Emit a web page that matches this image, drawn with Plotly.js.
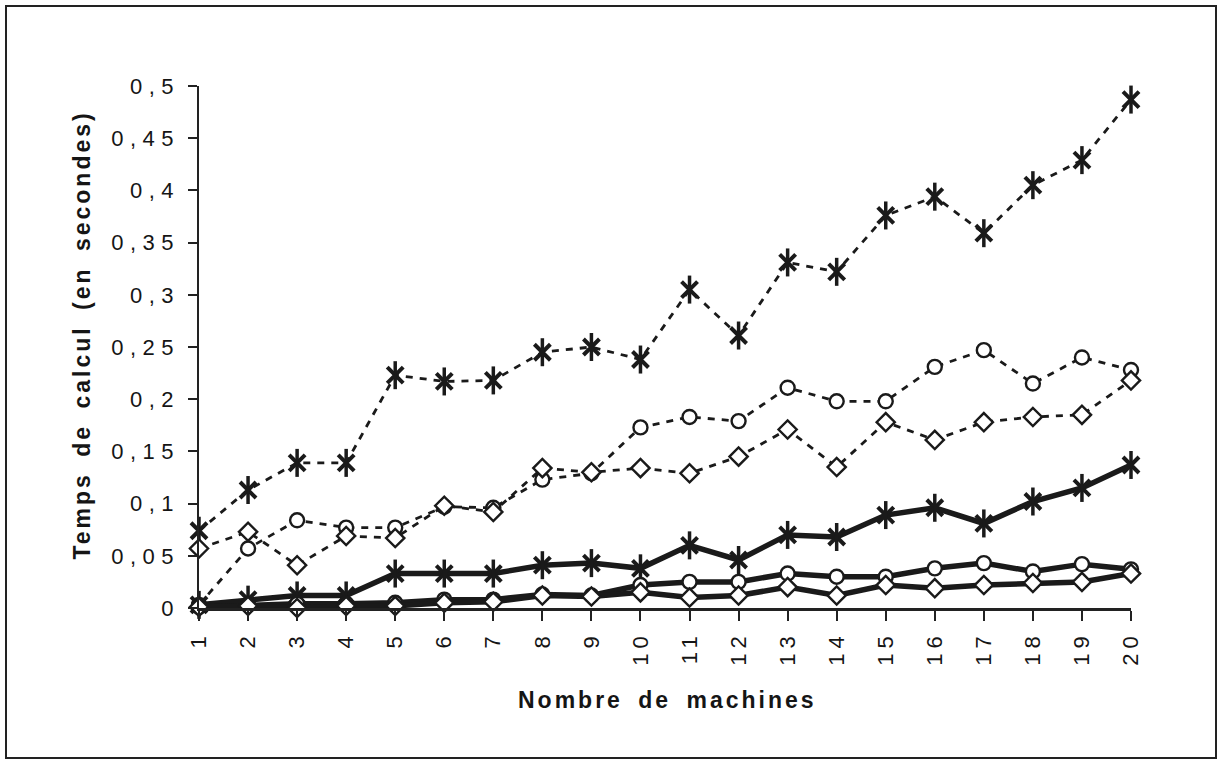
<!DOCTYPE html>
<html>
<head>
<meta charset="utf-8">
<script src="https://cdn.plot.ly/plotly-3.0.1.min.js"></script>
<style>
html,body{margin:0;padding:0;background:#fff;}
#wrap{position:relative;width:1221px;height:763px;}
#chart{width:1221px;height:763px;}
#frame{position:absolute;left:5px;top:5px;width:1208px;height:750px;border:2px solid #222;pointer-events:none;}
#chart .ytick text{letter-spacing:6.5px;}
#chart .xtick text{letter-spacing:5px;}
#chart .annotation-text{letter-spacing:3px;word-spacing:6px;}
</style>
</head>
<body>
<div id="wrap"><div id="chart"></div><div id="frame"></div></div>
<script>
const machines = [1,2,3,4,5,6,7,8,9,10,11,12,13,14,15,16,17,18,19,20];
const xTickLabels = machines.map(String);
const yTickValues = [0,0.05,0.1,0.15,0.2,0.25,0.3,0.35,0.4,0.45,0.5];
const xTitle = 'Nombre de machines';
const yTitle = 'Temps de calcul (en secondes)';

const dashedAsterisk = [0.074,0.113,0.139,0.139,0.223,0.217,0.218,0.245,0.250,0.238,0.305,0.261,0.331,0.322,0.376,0.394,0.359,0.405,0.429,0.487];
const dashedCircle   = [0.003,0.057,0.084,0.077,0.077,0.097,0.096,0.123,0.129,0.173,0.183,0.179,0.211,0.198,0.198,0.231,0.247,0.215,0.240,0.228];
const dashedDiamond  = [0.057,0.073,0.041,0.069,0.067,0.098,0.092,0.134,0.130,0.134,0.129,0.145,0.171,0.135,0.178,0.161,0.178,0.183,0.185,0.218];
const solidAsterisk  = [0.003,0.008,0.012,0.012,0.033,0.033,0.033,0.041,0.043,0.038,0.060,0.046,0.070,0.068,0.089,0.096,0.081,0.102,0.115,0.137];
const solidCircle    = [0.001,0.003,0.004,0.004,0.005,0.008,0.008,0.013,0.012,0.022,0.025,0.025,0.033,0.030,0.030,0.038,0.043,0.035,0.042,0.037];
const solidDiamond   = [0.001,0.002,0.000,0.002,0.002,0.005,0.006,0.012,0.011,0.015,0.010,0.012,0.020,0.012,0.022,0.019,0.022,0.024,0.025,0.033];

const INK = '#1a1a1a';

function series(y, dashed, kind){
  const ast = kind === 'asterisk';
  return {
    x: machines, y: y, type: 'scatter', mode: 'lines+markers',
    line: {color: INK, width: dashed ? 2.8 : 5.5, dash: dashed ? '7px,7px' : 'solid'},
    marker: ast
      ? {symbol: 'x-thin-open', size: 16, color: INK, line: {color: INK, width: 4}}
      : {symbol: kind, size: 14, color: '#ffffff', line: {color: INK, width: 2.4}},
    cliponaxis: false, showlegend: false, hoverinfo: 'x+y'
  };
}
function asteriskBar(y){
  return {
    x: machines, y: y, type: 'scatter', mode: 'markers',
    marker: {symbol: 'line-ns-open', size: 20, color: INK, line: {color: INK, width: 3.5}},
    cliponaxis: false, showlegend: false, hoverinfo: 'skip'
  };
}

const data = [
  series(dashedAsterisk, true, 'asterisk'), asteriskBar(dashedAsterisk),
  series(dashedCircle, true, 'circle'),
  series(dashedDiamond, true, 'diamond'),
  series(solidAsterisk, false, 'asterisk'), asteriskBar(solidAsterisk),
  series(solidCircle, false, 'circle'),
  series(solidDiamond, false, 'diamond')
];

const yTickFont = {family: 'Liberation Sans, Arial, sans-serif', size: 22, color: '#151515'};
const xTickFont = {family: 'Liberation Sans, Arial, sans-serif', size: 22, color: '#151515'};
const titleFont = {family: 'Liberation Sans, Arial, sans-serif', size: 23, color: '#151515', weight: 'bold'};

const layout = {
  width: 1221, height: 763,
  margin: {l: 199, r: 90, t: 86, b: 155},
  paper_bgcolor: '#ffffff', plot_bgcolor: '#ffffff',
  separators: ',.',
  showlegend: false,
  xaxis: {
    range: [1, 20], tickvals: machines, ticktext: xTickLabels, tickangle: -90,
    showgrid: false, zeroline: false, showline: true, linecolor: '#222', linewidth: 2.5,
    ticks: 'outside', ticklen: 10, tickwidth: 2, tickcolor: '#222',
    tickfont: xTickFont, ticklabelstandoff: 2
  },
  yaxis: {
    range: [0, 0.5], tickvals: yTickValues,
    showgrid: false, zeroline: false, showline: true, linecolor: '#222', linewidth: 2.5,
    ticks: 'outside', ticklen: 9, tickwidth: 2, tickcolor: '#222',
    tickfont: yTickFont, ticklabelstandoff: 3
  },
  xaxis2: {overlaying: 'x', anchor: 'y', side: 'bottom', range: [1, 20], tickvals: machines,
    showticklabels: false, showgrid: false, zeroline: false, showline: false,
    ticks: 'inside', ticklen: 9, tickwidth: 2, tickcolor: '#222'},
  yaxis2: {overlaying: 'y', anchor: 'x', side: 'left', range: [0, 0.5], tickvals: yTickValues,
    showticklabels: false, showgrid: false, zeroline: false, showline: false,
    ticks: 'inside', ticklen: 9, tickwidth: 2, tickcolor: '#222'},
  annotations: [
    {text: '<b>' + xTitle + '</b>', xref: 'paper', yref: 'paper', x: 0.503, y: -0.176,
     xanchor: 'center', yanchor: 'middle', showarrow: false, font: titleFont},
    {text: '<b>' + yTitle + '</b>', xref: 'paper', yref: 'paper', x: -0.126, y: 0.522,
     xanchor: 'center', yanchor: 'middle', textangle: -90, showarrow: false, font: titleFont}
  ]
};

Plotly.newPlot('chart', data, layout, {displayModeBar: false, staticPlot: true});
</script>
</body>
</html>
